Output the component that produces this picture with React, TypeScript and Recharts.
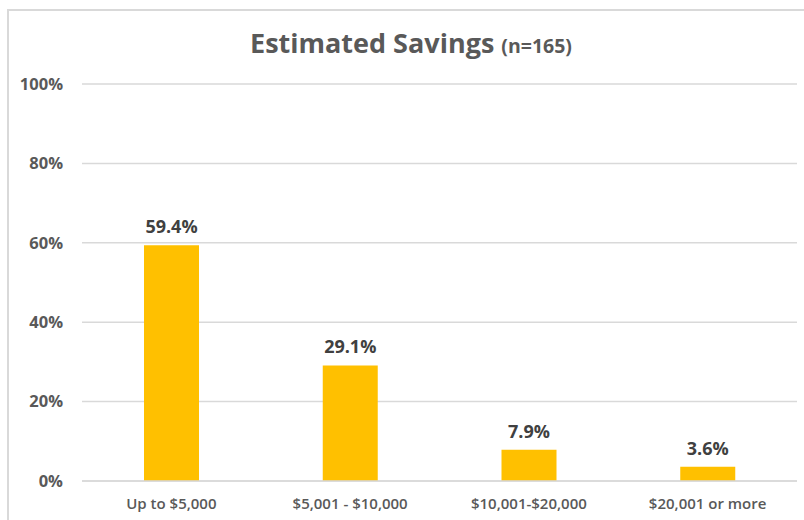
import React from "react";
import { BarChart, Bar, XAxis, YAxis, CartesianGrid, LabelList } from "recharts";

const categories = ["Up to $5,000", "$5,001 - $10,000", "$10,001-$20,000", "$20,001 or more"];
const savingsPct = [59.4, 29.1, 7.9, 3.6];
const yTicks = [0, 20, 40, 60, 80, 100];

const data = categories.map((c, i) => ({ name: c, value: savingsPct[i] }));

const FONT = "'Open Sans', sans-serif";

export default function App() {
  return (
    <div style={{ position: "fixed", left: 0, top: 0, width: 804, height: 520, background: "#fff", overflow: "hidden", fontFamily: FONT }}>
      <div style={{ position: "absolute", left: 7, top: 9, width: 900, height: 600, borderTop: "2px solid #d9d9d9", borderLeft: "2px solid #d9d9d9" }} />
      <div style={{ position: "absolute", left: 0, top: 24, width: 804, paddingLeft: 18, boxSizing: "border-box", textAlign: "center", color: "#595959", fontWeight: 700, fontSize: 27, lineHeight: "38px", whiteSpace: "nowrap" }}>
        Estimated Savings <span style={{ fontSize: 19.5 }}>(n=165)</span>
      </div>
      <div style={{ position: "absolute", left: 0, top: 0 }}>
        <BarChart width={804} height={520} data={data} margin={{ top: 84, right: 7, bottom: 9, left: 0 }}>
          <CartesianGrid vertical={false} stroke="#d9d9d9" strokeWidth={1.5} />
          <XAxis
            dataKey="name"
            height={30}
            axisLine={{ stroke: "#d9d9d9", strokeWidth: 1.5 }}
            tickLine={false}
            tickSize={0}
            tickMargin={17}
            tick={{ fill: "#595959", fontSize: 15, fontWeight: 600, fontFamily: FONT }}
            interval={0}
          />
          <YAxis
            width={82}
            domain={[0, 100]}
            ticks={yTicks}
            tickFormatter={(v: number) => `${v}%`}
            axisLine={false}
            tickLine={false}
            tickSize={0}
            tickMargin={19}
            tick={{ fill: "#595959", fontSize: 16.5, fontWeight: 700, fontFamily: FONT }}
          />
          <Bar dataKey="value" fill="#ffc000" barSize={55} isAnimationActive={false}>
            <LabelList
              dataKey="value"
              position="top"
              offset={12}
              formatter={(v: number) => `${v.toFixed(1)}%`}
              style={{ fill: "#404040", fontSize: 18, fontWeight: 700, fontFamily: FONT }}
            />
          </Bar>
        </BarChart>
      </div>
    </div>
  );
}
